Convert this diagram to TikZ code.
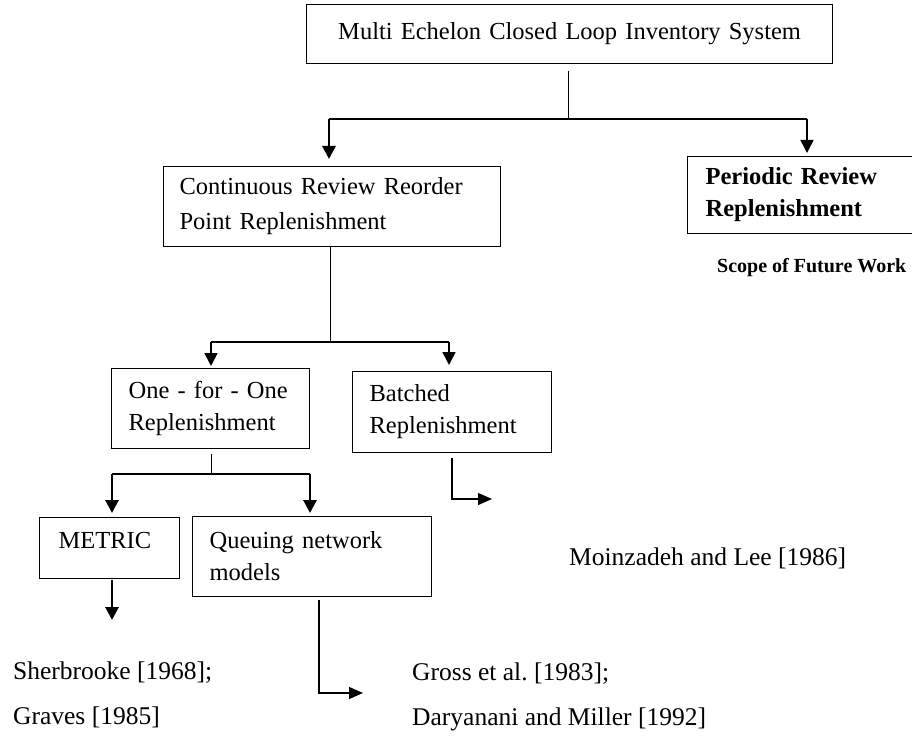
\documentclass[tikz,border=0pt]{standalone}
\usepackage{fontspec}
\setmainfont{Liberation Serif}
\usetikzlibrary{arrows.meta,calc}
\frenchspacing
\begin{document}
\begin{tikzpicture}[x=1pt,y=-1pt,
  box/.style={draw,line width=1.2pt,anchor=north west,inner ysep=0pt,align=left},
  bodytext/.style={font=\fontsize{24.5}{32}\selectfont},
  conn/.style={line width=1pt},
  barline/.style={line width=1.6pt},
  thickbar/.style={line width=2.6pt},
  arrthin/.style={line width=1.6pt,-{Triangle[width=13pt,length=13pt]}},
  arrthick/.style={line width=2.8pt,-{Triangle[width=13pt,length=13pt]}},
  arrsmall/.style={line width=1.2pt,-{Triangle[width=12pt,length=14pt]}},
  reftext/.style={anchor=base west,inner sep=0pt,font=\fontsize{25.5}{30}\selectfont},
]
\useasboundingbox (0,0) rectangle (912,746);

% boxes
\node[box,bodytext,align=center,text width=506pt,inner xsep=10pt,minimum height=59pt] (top) at (306,4) {Multi Echelon Closed Loop Inventory System};
\node[box,font=\fontsize{24.5}{35}\selectfont,text width=305pt,inner xsep=16pt,minimum height=80pt] (cont) at (163,166) {Continuous Review Reorder\\Point Replenishment};
\node[box,font=\fontsize{24.5}{32}\selectfont\bfseries,text width=190pt,inner xsep=18pt,minimum height=77pt] (peri) at (687,156) {Periodic Review\\Replenishment};
\node[anchor=base west,inner sep=0pt,font=\fontsize{20}{24}\selectfont\bfseries] (scope) at (717,272) {Scope of Future Work};
\node[box,bodytext,text width=164pt,inner xsep=17pt,minimum height=80pt] (one) at (111,368) {One - for - One\\Replenishment};
\node[box,bodytext,text width=165pt,inner xsep=17pt,minimum height=81pt] (batch) at (352,371) {Batched\\Replenishment};
\node[box,bodytext,text width=102pt,inner xsep=19pt,minimum height=61pt,text depth=15pt] (metric) at (39,517) {METRIC};
\node[box,bodytext,text width=205pt,inner xsep=17pt,minimum height=80pt] (queue) at (192,516) {Queuing network\\models};

% references
\node[reftext] (moin) at (569,565) {Moinzadeh and Lee [1986]};
\node[reftext] (sher) at (13,679) {Sherbrooke [1968];};
\node[reftext] (graves) at (13,724) {Graves [1985]};
\node[reftext] (gross) at (412,680) {Gross et al.\ [1983];};
\node[reftext] (dary) at (412,725) {Daryanani and Miller [1992]};

% level 1 connectors
\coordinate (s1) at (568,71);
\coordinate (j1) at (568,119);
\coordinate (jl) at (329,119);
\coordinate (jr) at (807,119);
\draw[conn] (s1) -- (j1);
\draw[barline] (jl) -- (jr);
\draw[arrthick,shorten >=7pt] (jl) -- (jl |- cont.north);
\draw[arrthin,shorten >=3pt] (jr) -- (jr |- peri.north);

% level 2 connectors
\coordinate (j2) at (330,342);
\coordinate (j2l) at (211,342);
\coordinate (j2r) at (449,342);
\draw[conn] (j2 |- cont.south) -- (j2);
\draw[barline] (j2l) -- (j2r);
\draw[arrthin,shorten >=2pt] (j2l) -- (j2l |- one.north);
\draw[arrthin,shorten >=6pt] (j2r) -- (j2r |- batch.north);

% level 3 connectors
\coordinate (s3) at (211,454);
\coordinate (j3) at (211,474);
\coordinate (j3l) at (112,474);
\coordinate (j3r) at (310,474);
\draw[conn] (s3) -- (j3);
\draw[thickbar] (j3l) -- (j3r);
\draw[arrthick,shorten >=4pt] (j3l) -- (j3l |- metric.north);
\draw[arrthick,shorten >=3pt] (j3r) -- (j3r |- queue.north);

% metric down arrow
\coordinate (m0) at (112,580);
\coordinate (m1) at (112,620);
\draw[arrthick] (m0) -- (m1);

% queuing arrow
\coordinate (q0) at (319,600);
\coordinate (q1) at (319,693);
\coordinate (q2) at (363,693);
\draw[arrsmall] (q0) -- (q1) -- (q2);

% batched arrow
\coordinate (bt0) at (452,458);
\coordinate (bt1) at (452,499);
\coordinate (bt2) at (492,499);
\draw[arrsmall] (bt0) -- (bt1) -- (bt2);
\end{tikzpicture}
\end{document}
